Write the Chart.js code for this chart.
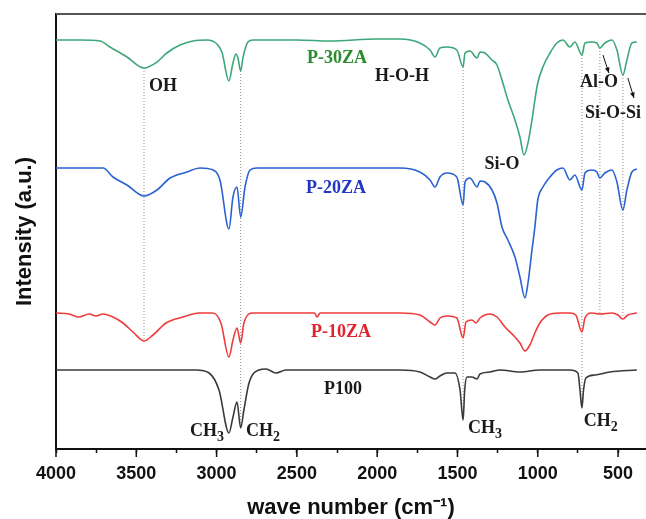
<!DOCTYPE html>
<html>
<head>
<meta charset="utf-8">
<script src="https://cdn.jsdelivr.net/npm/chart.js@4.4.0/dist/chart.umd.min.js"></script>
<style>
  body { margin: 0; background: #fff; }
  canvas { display: block; }
</style>
</head>
<body>
<canvas id="ftir" width="646" height="519"></canvas>
<script>
// FTIR spectra, wave number (cm-1) against intensity (a.u.), curves offset by hand
const p30Wave = [4000,3850,3726,3664,3558,3452,3371,3310,3228,3147,3060,2998,2967,2923,2898,2880,2867,2850,2836,2805,2773,2500,2294,2000,1858,1734,1671,1640,1609,1566,1504,1465,1453,1422,1378,1360,1329,1285,1254,1223,1186,1142,1111,1086,1061,1036,1018,1000,968,924,881,843,800,769,725,706,663,632,613,582,538,507,470,445,414,383];
const p30Int  = [4.09,4.09,4.08,4.02,3.92,3.81,3.87,3.96,4.04,4.08,4.09,4.05,3.97,3.68,3.86,3.95,3.91,3.78,3.91,4.07,4.09,4.09,4.08,4.10,4.10,4.06,3.99,3.92,4.01,4.02,3.99,3.82,3.96,3.98,3.91,3.97,3.96,3.89,3.84,3.69,3.49,3.29,3.12,2.94,3.06,3.29,3.49,3.66,3.82,3.96,4.06,4.09,4.02,4.07,3.94,4.06,4.07,4.06,4.01,4.06,4.09,3.99,3.74,3.89,4.06,4.07];

const p20Wave = [4000,3850,3707,3645,3558,3452,3371,3290,3185,3103,3022,2979,2923,2898,2873,2850,2823,2792,2749,2500,2200,1858,1734,1671,1640,1609,1566,1504,1465,1453,1422,1378,1360,1329,1285,1254,1223,1186,1142,1111,1080,1061,1036,1018,1000,968,924,881,843,800,769,725,706,663,632,613,582,538,507,470,445,414,383];
const p20Int  = [2.81,2.81,2.81,2.72,2.64,2.53,2.59,2.71,2.77,2.81,2.79,2.69,2.20,2.52,2.62,2.32,2.62,2.79,2.81,2.81,2.81,2.81,2.77,2.69,2.62,2.72,2.76,2.72,2.44,2.67,2.71,2.62,2.68,2.67,2.59,2.46,2.22,2.09,1.92,1.72,1.51,1.66,1.99,2.22,2.49,2.62,2.72,2.79,2.81,2.69,2.74,2.59,2.76,2.79,2.77,2.71,2.76,2.79,2.67,2.39,2.59,2.77,2.80];

const p10Wave = [4000,3919,3857,3795,3751,3707,3645,3583,3514,3452,3396,3315,3209,3110,3023,2973,2923,2898,2873,2850,2830,2773,2500,2390,2375,2355,2000,1858,1734,1671,1640,1609,1566,1504,1465,1447,1410,1385,1360,1298,1254,1204,1142,1111,1080,1049,1018,987,937,862,800,763,725,706,663,613,538,501,470,439,383];
const p10Int  = [1.36,1.35,1.32,1.35,1.33,1.35,1.32,1.26,1.16,1.08,1.14,1.26,1.32,1.36,1.36,1.26,0.92,1.09,1.21,1.06,1.26,1.36,1.36,1.36,1.32,1.36,1.36,1.36,1.34,1.27,1.24,1.31,1.33,1.31,1.11,1.27,1.29,1.26,1.31,1.35,1.32,1.22,1.12,1.06,0.98,1.04,1.16,1.26,1.34,1.36,1.36,1.34,1.17,1.31,1.36,1.35,1.36,1.34,1.30,1.34,1.36];

const p100Wave = [4000,3500,3128,3047,2985,2923,2898,2873,2850,2830,2798,2736,2693,2630,2568,2000,1858,1734,1671,1640,1609,1566,1516,1484,1465,1455,1441,1410,1378,1360,1298,1236,1111,987,800,750,737,725,715,700,644,551,383];
const p100Int  = [0.79,0.79,0.79,0.76,0.59,0.16,0.32,0.47,0.21,0.39,0.66,0.79,0.80,0.76,0.79,0.79,0.79,0.77,0.72,0.70,0.73,0.76,0.76,0.59,0.29,0.59,0.72,0.72,0.70,0.75,0.77,0.79,0.77,0.79,0.79,0.76,0.59,0.41,0.59,0.71,0.74,0.77,0.79];

// band positions marked with dotted guide lines
const markWave   = [3452, 2850, 1465, 725, 613, 470];
const markTop    = [3.81, 3.78, 3.82, 3.94, 4.01, 3.74];
const markBottom = [1.08, 0.21, 0.29, 0.41, 1.35, 1.30];

const xTicks = [4000, 3500, 3000, 2500, 2000, 1500, 1000, 500];

const green = '#3ca77a', blue = '#2a62d2', red = '#ef3b3b', black = '#3a3a3a';

function pts(wave, val) {
  return wave.map((w, i) => ({ x: w, y: val[i] }));
}

const datasets = [
  { data: pts(p30Wave, p30Int), borderColor: green },
  { data: pts(p20Wave, p20Int), borderColor: blue },
  { data: pts(p10Wave, p10Int), borderColor: red },
  { data: pts(p100Wave, p100Int), borderColor: black }
].map(d => Object.assign(d, { borderWidth: 1.6, cubicInterpolationMode: 'monotone', order: 1 }));

markWave.forEach((w, i) => {
  datasets.push({
    data: [{ x: w, y: markTop[i] }, { x: w, y: markBottom[i] }],
    borderColor: '#8a8a8a', borderWidth: 1, borderDash: [1, 2], order: 2
  });
});

const notes = [
  { text: 'OH', x: 3334, y: 3.63 },
  { text: 'H-O-H', x: 1846, y: 3.73 },
  { text: 'Si-O', x: 1223, y: 2.85 },
  { text: 'Al-O', x: 619, y: 3.67 },
  { text: 'Si-O-Si', x: 532, y: 3.36 },
  { text: 'P-30ZA', x: 2250, y: 3.91, color: '#2a8c2e' },
  { text: 'P-20ZA', x: 2257, y: 2.61, color: '#2136c4' },
  { text: 'P-10ZA', x: 2226, y: 1.17, color: '#e2222c' },
  { text: 'P100', x: 2213, y: 0.60 },
  { text: 'CH', sub: '3', x: 3060, y: 0.18 },
  { text: 'CH', sub: '2', x: 2711, y: 0.18 },
  { text: 'CH', sub: '3', x: 1329, y: 0.21 },
  { text: 'CH', sub: '2', x: 607, y: 0.28 }
];

const arrows = [
  { x1: 594, y1: 3.94, x2: 557, y2: 3.76 },
  { x1: 439, y1: 3.71, x2: 401, y2: 3.51 }
];

const decor = {
  id: 'decor',
  afterDraw(chart) {
    const { ctx, chartArea: a, scales: { x, y } } = chart;
    ctx.save();
    // top frame line
    ctx.strokeStyle = '#555';
    ctx.lineWidth = 2;
    ctx.beginPath();
    ctx.moveTo(a.left, a.top);
    ctx.lineTo(a.right, a.top);
    ctx.stroke();
    // longer major ticks
    ctx.strokeStyle = '#111';
    ctx.lineWidth = 1.5;
    xTicks.forEach(v => {
      const px = x.getPixelForValue(v);
      ctx.beginPath();
      ctx.moveTo(px, a.bottom);
      ctx.lineTo(px, a.bottom + 8);
      ctx.stroke();
    });
    // band labels
    ctx.textBaseline = 'middle';
    notes.forEach(n => {
      const px = x.getPixelForValue(n.x), py = y.getPixelForValue(n.y);
      ctx.fillStyle = n.color || '#1a1a1a';
      ctx.font = 'bold 18px "Liberation Serif", serif';
      const w1 = ctx.measureText(n.text).width;
      let w2 = 0;
      if (n.sub) {
        ctx.font = 'bold 14px "Liberation Serif", serif';
        w2 = ctx.measureText(n.sub).width;
      }
      const left = px - (w1 + w2) / 2;
      ctx.font = 'bold 18px "Liberation Serif", serif';
      ctx.textAlign = 'left';
      ctx.fillText(n.text, left, py);
      if (n.sub) {
        ctx.font = 'bold 14px "Liberation Serif", serif';
        ctx.fillText(n.sub, left + w1, py + 6);
      }
    });
    // small arrows towards Al-O and Si-O-Si
    ctx.strokeStyle = '#111';
    ctx.fillStyle = '#111';
    ctx.lineWidth = 1;
    arrows.forEach(r => {
      const x1 = x.getPixelForValue(r.x1), y1 = y.getPixelForValue(r.y1);
      const x2 = x.getPixelForValue(r.x2), y2 = y.getPixelForValue(r.y2);
      const ang = Math.atan2(y2 - y1, x2 - x1);
      ctx.beginPath();
      ctx.moveTo(x1, y1);
      ctx.lineTo(x2, y2);
      ctx.stroke();
      ctx.beginPath();
      ctx.moveTo(x2, y2);
      ctx.lineTo(x2 - 6 * Math.cos(ang - 0.4), y2 - 6 * Math.sin(ang - 0.4));
      ctx.lineTo(x2 - 6 * Math.cos(ang + 0.4), y2 - 6 * Math.sin(ang + 0.4));
      ctx.closePath();
      ctx.fill();
    });
    ctx.restore();
  }
};

const chart = document.querySelector('#ftir').getContext('2d');

new Chart(chart, {
  type: 'line',
  data: { datasets },
  options: {
    responsive: false,
    animation: false,
    layout: { padding: { left: 10, top: 14, right: 0, bottom: 0 } },
    elements: { point: { radius: 0 } },
    plugins: { legend: { display: false }, tooltip: { enabled: false } },
    scales: {
      x: {
        type: 'linear',
        reverse: true,
        min: 326,
        max: 4000,
        afterFit: s => { s.height = 70; },
        ticks: {
          stepSize: 250,
          includeBounds: false,
          autoSkip: false,
          maxRotation: 0,
          padding: 10,
          color: '#111',
          font: { family: '"Liberation Sans", Arial, sans-serif', size: 18, weight: 'bold' },
          callback: v => (v % 500 === 0 ? v : '')
        },
        grid: { display: true, drawOnChartArea: false, drawTicks: true, tickLength: 4, tickColor: '#111', tickWidth: 1.5 },
        border: { display: true, color: '#111', width: 2 },
        title: {
          display: true,
          text: 'wave number (cm⁻¹)',
          color: '#111',
          font: { family: '"Liberation Sans", Arial, sans-serif', size: 22, weight: 'bold', lineHeight: 1 },
          padding: { top: 0, bottom: 0 }
        }
      },
      y: {
        min: 0,
        max: 4.35,
        afterFit: s => { s.width = 46; },
        ticks: { display: false },
        grid: { display: false },
        border: { display: true, color: '#111', width: 2 },
        title: {
          display: true,
          text: 'Intensity (a.u.)',
          color: '#111',
          font: { family: '"Liberation Sans", Arial, sans-serif', size: 22, weight: 'bold', lineHeight: 1 },
          padding: { top: 4, bottom: 0 }
        }
      }
    }
  },
  plugins: [decor]
});
</script>
</body>
</html>
